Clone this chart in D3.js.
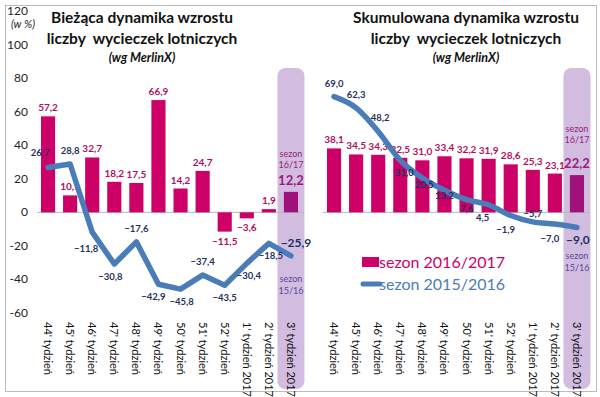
<!DOCTYPE html>
<html><head><meta charset="utf-8">
<script src="https://cdn.jsdelivr.net/npm/d3@7"></script>
<style>body{margin:0;background:#fff}svg{display:block;font-family:Lato,"Open Sans",sans-serif}</style>
</head><body><svg id="c" width="600" height="397"></svg>
<script>
const categories = ["44' tydzień","45' tydzień","46' tydzień","47' tydzień","48' tydzień","49' tydzień","50' tydzień","51' tydzień","52' tydzień","1' tydzień 2017","2' tydzień 2017","3' tydzień 2017"];
const currentBars = [57.2,10.1,32.7,18.2,17.5,66.9,14.2,24.7,-11.5,-3.6,1.9,12.2];
const currentLine = [26.7,28.8,-11.8,-30.8,-17.6,-42.9,-45.8,-37.4,-43.5,-30.4,-18.5,-25.9];
const cumulBars = [38.1,34.5,34.3,32.5,31.0,33.4,32.2,31.9,28.6,25.3,23.1,22.2];
const cumulLine = [69.0,62.3,48.2,31.0,20.5,13.2,7.6,4.5,-1.9,-5.7,-7.0,-9.0];
const yTicks = [-60,-40,-20,0,20,40,60,80,100,120];
const seriesNames = ["sezon 2016/2017","sezon 2015/2016"];
// label placement for line labels (style only)
const leftLinePos = [[-8,-12],[0,-10],[-6,20],[-4,16],[0,-10],[-5,16],[1,16],[0,-10],[0,16],[2,16],[2,16],[5,-9]];
const rightLinePos = [[0,-10],[0,-10],[2,-10],[4,16],[2,10],[0,9],[0,12],[-6,16],[-5,17],[0,-5],[-5,18],[1,17]];
// offsets of the season notes above the last bar (style only)
const seasonNoteOffsets = [[-35,-24,-7],[-43,-32,-7]];

const svg = d3.select("#c");
const fmt = v => d3.format(".1f")(v).replace(".",",");
const y = d3.scaleLinear().domain([-60,120]).range([313,11]);
const BAR = "#cc0066", BAR_LAST = "#a0127a", LINE = "#4a7cba", LBL_BAR = "#b0105f", LBL_LINE = "#1f3060", HL = "#d2bde0";

svg.append("rect").attr("x",5.5).attr("y",5.5).attr("width",591).attr("height",386).attr("fill","none").attr("stroke","#bbb");

// y ticks
svg.append("g").selectAll("text").data(yTicks).join("text")
  .attr("x",28).attr("y",d=>y(d)+4).attr("text-anchor","end").attr("font-size",12).attr("fill","#222").text(d=>d);
svg.append("text").attr("x",11).attr("y",28).attr("font-size",11).attr("font-style","italic").attr("fill","#222").text("(w %)");

function panel(x0,x1,bars,line,pos,notes,title1,title2,tcx,curve){
  const x = d3.scaleBand().domain(categories).range([x0,x1]).paddingInner(0.36).paddingOuter(0.18);
  const cx = d => x(d)+x.bandwidth()/2;
  const last = categories[categories.length-1];
  // highlight
  svg.append("rect").attr("x",cx(last)-13.5).attr("y",68).attr("width",27).attr("height",321).attr("rx",8).attr("fill",HL);
  // zero line
  svg.append("line").attr("x1",x0).attr("x2",x1+2).attr("y1",y(0)).attr("y2",y(0)).attr("stroke","#b5b5b5").attr("stroke-width",1);
  // bars
  svg.append("g").selectAll("rect").data(bars).join("rect")
    .attr("x",(d,i)=>x(categories[i])).attr("width",x.bandwidth())
    .attr("y",d=>y(Math.max(0,d))).attr("height",d=>Math.abs(y(d)-y(0)))
    .attr("fill",(d,i)=>i===bars.length-1?BAR_LAST:BAR);
  // bar labels
  svg.append("g").selectAll("text").data(bars.slice(0,-1)).join("text")
    .attr("x",(d,i)=>cx(categories[i])).attr("y",d=>d>=0?y(d)-5:y(d)+13)
    .attr("text-anchor","middle").attr("font-size",10).attr("font-weight","bold").attr("fill",LBL_BAR).text(fmt);
  const lb = bars[bars.length-1];
  svg.append("text").attr("x",cx(last)).attr("y",y(lb)+notes[2]).attr("text-anchor","middle").attr("font-size",13).attr("font-weight","bold").attr("fill","#9a1a80").text(fmt(lb));
  svg.append("text").attr("x",cx(last)).attr("y",y(lb)+notes[0]).attr("text-anchor","middle").attr("font-size",9).attr("fill","#9a1a80").text("sezon");
  svg.append("text").attr("x",cx(last)).attr("y",y(lb)+notes[1]).attr("text-anchor","middle").attr("font-size",9).attr("fill","#9a1a80").text("16/17");
  // line
  const gen = d3.line().x((d,i)=>cx(categories[i])).y(d=>y(d)).curve(curve);
  svg.append("path").datum(line).attr("d",gen).attr("fill","none").attr("stroke",LINE).attr("stroke-width",5.5).attr("stroke-linecap","round").attr("stroke-linejoin","round");
  // line labels
  svg.append("g").selectAll("text").data(line).join("text")
    .attr("x",(d,i)=>cx(categories[i])+pos[i][0]).attr("y",(d,i)=>y(d)+pos[i][1])
    .attr("text-anchor","middle").attr("font-weight","bold").attr("fill",LBL_LINE)
    .attr("font-size",(d,i)=>i===line.length-1?12:9.5).text(fmt);
  const ll = line[line.length-1];
  const ly = y(ll)+pos[line.length-1][1];
  const base = pos[line.length-1][1] < 0 ? y(ll)+26 : ly+15;
  svg.append("text").attr("x",cx(last)).attr("y",base).attr("text-anchor","middle").attr("font-size",9).attr("fill","#5a4a9a").text("sezon");
  svg.append("text").attr("x",cx(last)).attr("y",base+12).attr("text-anchor","middle").attr("font-size",9).attr("fill","#5a4a9a").text("15/16");
  // x labels
  svg.append("g").selectAll("text").data(categories).join("text")
    .attr("transform",d=>`translate(${cx(d)-4},322) rotate(90)`)
    .attr("font-size",11).attr("fill","#111").text(d=>d);
  // titles
  svg.append("text").attr("x",tcx).attr("y",23).attr("text-anchor","middle").attr("font-size",15.5).attr("font-weight","bold").attr("fill","#111").text(title1);
  svg.append("text").attr("x",tcx).attr("y",44).attr("text-anchor","middle").attr("font-size",15.5).attr("font-weight","bold").attr("fill","#111").attr("xml:space","preserve").text(title2);
  svg.append("text").attr("x",tcx).attr("y",62).attr("text-anchor","middle").attr("font-size",12.5).attr("font-weight","bold").attr("font-style","italic").attr("fill","#111").text("(wg MerlinX)");
}

panel(37,302,currentBars,currentLine,leftLinePos,seasonNoteOffsets[0],"Bieżąca dynamika wzrostu","liczby  wycieczek lotniczych",142,d3.curveLinear);
panel(323,588,cumulBars,cumulLine,rightLinePos,seasonNoteOffsets[1],"Skumulowana dynamika wzrostu","liczby  wycieczek lotniczych",466,d3.curveMonotoneX);

// legend
const lg = svg.append("g");
lg.append("rect").attr("x",362).attr("y",257).attr("width",17).attr("height",10).attr("fill",BAR);
lg.append("text").attr("x",379).attr("y",268).attr("font-size",16).attr("fill",BAR).text(seriesNames[0]);
lg.append("line").attr("x1",363).attr("x2",380).attr("y1",284).attr("y2",284).attr("stroke",LINE).attr("stroke-width",5).attr("stroke-linecap","round");
lg.append("text").attr("x",379).attr("y",290).attr("font-size",16).attr("fill","#4a7cba").text(seriesNames[1]);
</script></body></html>
